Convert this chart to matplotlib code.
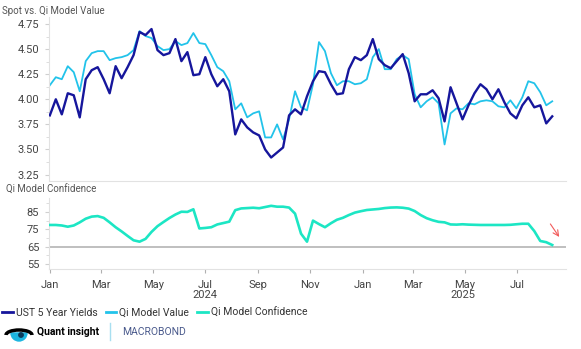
import matplotlib
matplotlib.use("Agg")
import matplotlib.pyplot as plt
import matplotlib.dates as mdates
from matplotlib.patches import Wedge, Circle, Arc
import pandas as pd

plt.rcParams['font.family'] = ['Roboto', 'DejaVu Sans']

# weekly readings, Jan 2024 .. Aug 2025
dates = pd.date_range('2024-01-01', periods=85, freq='7D')

ust_5y = [3.84, 4.00, 3.85, 4.06, 4.04, 3.82, 4.20, 4.29, 4.32, 4.20,
          4.06, 4.33, 4.21, 4.32, 4.44, 4.67, 4.64, 4.70, 4.49, 4.44,
          4.46, 4.60, 4.38, 4.47, 4.24, 4.25, 4.42, 4.25, 4.13, 4.20,
          4.08, 3.65, 3.80, 3.72, 3.67, 3.64, 3.50, 3.42, 3.47, 3.52,
          3.84, 3.90, 3.85, 4.03, 4.18, 4.28, 4.27, 4.15, 4.05, 4.06,
          4.30, 4.42, 4.39, 4.44, 4.60, 4.40, 4.34, 4.31, 4.38, 4.45,
          4.26, 3.98, 4.05, 4.05, 4.09, 4.01, 3.78, 4.12, 3.96, 3.80,
          3.94, 4.06, 4.15, 4.10, 4.00, 4.10, 3.97, 3.86, 3.81, 3.94,
          4.02, 3.92, 3.94, 3.76, 3.83]

qi_value = [4.14, 4.22, 4.20, 4.33, 4.27, 4.08, 4.38, 4.46, 4.48, 4.48,
            4.39, 4.41, 4.42, 4.44, 4.49, 4.68, 4.63, 4.61, 4.53, 4.49,
            4.50, 4.58, 4.54, 4.56, 4.66, 4.56, 4.55, 4.44, 4.32, 4.28,
            4.18, 3.90, 3.96, 3.82, 3.86, 3.88, 3.62, 3.62, 3.75, 3.60,
            3.80, 4.08, 3.92, 3.89, 4.15, 4.57, 4.48, 4.26, 4.14, 4.18,
            4.18, 4.15, 4.16, 4.20, 4.42, 4.50, 4.30, 4.30, 4.40, 4.44,
            4.40, 4.05, 3.92, 3.98, 4.02, 3.96, 3.55, 3.86, 3.91, 3.90,
            3.96, 3.95, 3.98, 3.99, 3.98, 3.93, 3.92, 3.99, 3.91, 4.02,
            4.18, 4.16, 4.07, 3.94, 3.98]

qi_confidence = [77.5, 77.5, 77.2, 76.5, 77.2, 79.0, 81.1, 82.3, 82.6, 81.6,
                 79.0, 76.2, 73.8, 71.2, 68.7, 67.9, 69.5, 73.5, 76.8, 79.2,
                 81.5, 83.5, 85.1, 85.0, 86.5, 75.5, 75.8, 76.2, 77.8, 78.6,
                 79.4, 86.0, 87.0, 87.2, 87.4, 87.1, 87.8, 88.5, 88.0, 88.0,
                 87.5, 84.0, 72.5, 67.9, 80.0, 78.0, 76.2, 78.5, 80.5, 81.6,
                 83.2, 84.6, 85.4, 86.1, 86.4, 86.7, 87.2, 87.5, 87.6, 87.4,
                 86.9, 85.5, 83.2, 81.4, 80.2, 79.3, 79.0, 77.8, 77.7, 77.9,
                 77.7, 77.6, 77.5, 77.5, 77.5, 77.5, 77.5, 77.6, 77.9, 78.2,
                 78.2, 74.0, 68.3, 67.6, 66.0]

confidence_threshold = 65
arrow_from = (pd.Timestamp('2025-08-07'), 79.4)
arrow_to = (pd.Timestamp('2025-08-21'), 69.3)

navy = '#16169c'
cyan = '#22c3ea'
teal = '#1ce6c4'
grey_text = '#444444'

fig = plt.figure(figsize=(5.81, 3.49), dpi=100)
ax1 = fig.add_axes([0.0843, 0.4814, 0.8897, 0.4699])
ax2 = fig.add_axes([0.0843, 0.2292, 0.8897, 0.2035], sharex=ax1)

ax1.plot(dates, qi_value, color=cyan, lw=1.3, zorder=2)
ax1.plot(dates, ust_5y, color=navy, lw=1.7, zorder=3)
ax2.plot(dates, qi_confidence, color=teal, lw=1.9, zorder=3)
ax2.axhline(confidence_threshold, color='#b4b4b4', lw=1.2, zorder=1)

ax2.annotate('', xy=arrow_to, xytext=arrow_from,
             arrowprops=dict(arrowstyle='->', color='#f25a5a', lw=0.8))

ax1.set_ylim(3.186, 4.82)
ax1.set_yticks([3.25, 3.50, 3.75, 4.00, 4.25, 4.50, 4.75])
ax1.set_yticklabels(['3.25', '3.50', '3.75', '4.00', '4.25', '4.50', '4.75'])
ax1.set_yticks([3.375, 3.625, 3.875, 4.125, 4.375, 4.625], minor=True)

ax2.set_ylim(52.2, 93.0)
ax2.set_yticks([55, 65, 75, 85])
ax2.set_yticks([60, 70, 80, 90], minor=True)

ax1.set_xlim(pd.Timestamp('2023-12-31'), pd.Timestamp('2025-08-27'))
ax2.xaxis.set_major_locator(mdates.MonthLocator(bymonth=[1, 3, 5, 7, 9, 11]))
ax2.xaxis.set_major_formatter(mdates.DateFormatter('%b'))
plt.setp(ax1.get_xticklabels(), visible=False)
ax1.tick_params(axis='x', length=0)

for ax in (ax1, ax2):
    for s in ('top', 'right'):
        ax.spines[s].set_visible(False)
    ax.spines['left'].set_color('#e2e2e2')
    ax.spines['bottom'].set_color('#e2e2e2')
    ax.tick_params(axis='y', which='major', length=3, color='#d0d0d0',
                   labelsize=8, labelcolor=grey_text, pad=4)
    ax.tick_params(axis='y', which='minor', length=2, color='#d8d8d8')
ax2.tick_params(axis='x', length=3, color='#b0b0b0', labelsize=8,
                labelcolor=grey_text, pad=5)

fig.text(0.003, 0.968, 'Spot vs. Qi Model Value', fontsize=7, color='#555555',
         va='center', ha='left')
fig.text(0.010, 0.456, 'Qi Model Confidence', fontsize=7, color='#555555',
         va='center', ha='left')

# year labels centred under the part of each year that is shown
ax2.text(pd.Timestamp('2024-07-01'), -0.37, '2024', transform=ax2.get_xaxis_transform(),
         ha='center', va='center', fontsize=8, color=grey_text)
ax2.text(pd.Timestamp('2025-04-29'), -0.37, '2025', transform=ax2.get_xaxis_transform(),
         ha='center', va='center', fontsize=8, color=grey_text)

h1, = ax1.plot([], [], color=navy, lw=2)
h2, = ax1.plot([], [], color=cyan, lw=2)
h3, = ax1.plot([], [], color=teal, lw=2)
fig.legend([h1, h2, h3], ['UST 5 Year Yields', 'Qi Model Value', 'Qi Model Confidence'],
           loc='center left', bbox_to_anchor=(0.0, 0.103), ncol=3, frameon=False,
           fontsize=7.5, handlelength=1.0, handletextpad=0.3, columnspacing=0.8,
           labelcolor='#333333', borderaxespad=0, borderpad=0.2)

# footer: logos as text and simple shapes
logo = fig.add_axes([0, 0, 1, 1], zorder=-1)
logo.set_xlim(0, 581)
logo.set_ylim(349, 0)
logo.axis('off')
logo.add_patch(Wedge((19, 333), 8, 0, 180, color='#1cb6e0'))
logo.add_patch(Circle((21, 335), 2.2, color='#0a3a5a'))
logo.add_patch(Arc((19, 335), 26, 10, theta1=180, theta2=360, color='black', lw=2.5))
logo.text(37, 332, 'Quant insight', fontsize=7.5, fontweight='bold', color='black',
          va='center', ha='left')
logo.plot([110, 110], [323, 340], color='#a8dff0', lw=1)
logo.text(122, 332, 'MACROBOND', fontsize=7.5, color='#4a5a8c', va='center', ha='left')

fig.savefig('out.png', dpi=100)
